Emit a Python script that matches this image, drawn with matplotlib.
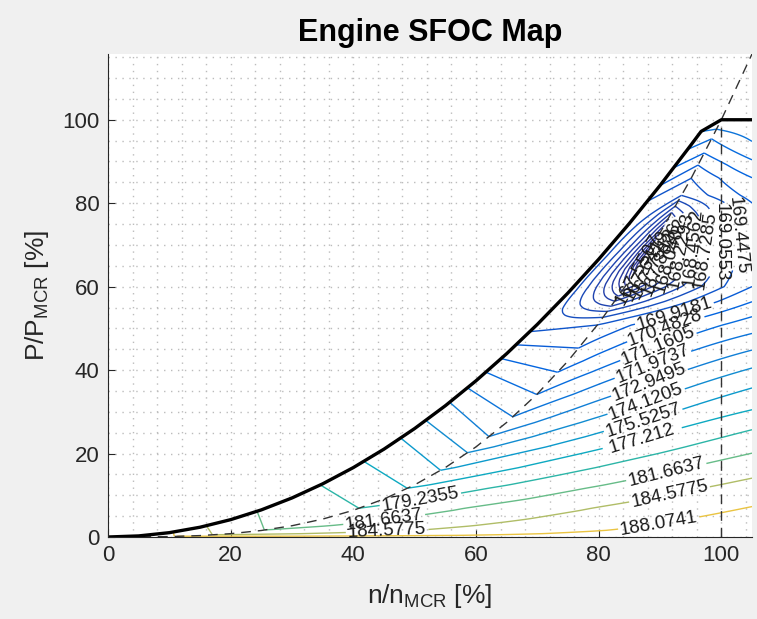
import numpy as np
import matplotlib.pyplot as plt
from matplotlib.colors import LinearSegmentedColormap

plt.rcParams['font.family'] = ['Liberation Sans', 'DejaVu Sans']
plt.rcParams['mathtext.fontset'] = 'custom'
plt.rcParams['mathtext.rm'] = 'Liberation Sans'
plt.rcParams['mathtext.it'] = 'Liberation Sans:italic'

# propeller curve (n/nMCR [%], P/PMCR [%])
prop_n = [0, 5, 10, 15, 20, 25, 30, 35, 40, 45, 50, 55, 60, 65, 70, 75, 80, 85, 90, 95, 100, 105]
prop_p = [0, 0.01, 0.1, 0.34, 0.8, 1.56, 2.7, 4.29, 6.4, 9.11, 12.5, 16.64, 21.6, 27.46,
          34.3, 42.19, 51.2, 61.41, 72.9, 85.74, 100, 115.76]

# engine load limit
lim_n = [0, 5, 10, 15, 20, 25, 30, 35, 40, 45, 50, 55, 60, 65, 70, 75, 80, 85, 90, 95, 96.7, 100, 105]
lim_p = [0, 0.26, 1.04, 2.34, 4.16, 6.5, 9.36, 12.74, 16.64, 21.06, 26.0, 31.46, 37.44, 43.94,
         50.96, 58.5, 66.56, 75.14, 84.24, 93.86, 97.2, 100, 100]

mcr_n = 100
mcr_p = 100

# SFOC [g/kWh]
sfoc_prop_n = [0, 5, 10, 14, 17, 25.5, 33, 40.9, 48.8, 54.2, 58.6, 62.1, 66, 69.9, 73.3, 76.7,
               79.8, 80.7, 81.4, 82.0, 82.6, 83.2, 83.8, 84.4, 85.0, 85.6, 86.8, 88.4, 89.3,
               90.0, 90.7, 91.3, 91.9, 92.5, 93.0, 93.5, 95.1, 96.2, 97.2, 98.4, 99.2, 100, 105]
sfoc_prop = [200, 193, 188.6, 186.0, 184.58, 181.66, 180.4, 179.24, 177.21, 175.53, 174.12,
             172.95, 171.97, 171.16, 170.48, 169.92, 169.45, 169.06, 168.73, 168.46, 168.23,
             168.04, 167.88, 167.75, 167.64, 167.55, 167.47, 167.55, 167.64, 167.75, 167.88,
             168.04, 168.23, 168.46, 168.73, 169.06, 169.45, 169.92, 170.48, 171.16, 171.97,
             172.6, 174]

# SFOC read along the load limit
sfoc_lim_n = [0, 10, 16, 24.3, 34.6, 41.7, 47.7, 51.8, 55.7, 58.6, 61.6, 64.1, 66.5, 68.7, 72,
              77, 82, 86, 88, 90, 92.2, 94.5, 96.7, 100]
sfoc_lim = [200, 188.5, 184.58, 181.66, 179.24, 177.21, 175.53, 174.12, 172.95, 171.97, 171.16,
            170.48, 169.92, 169.45, 169.3, 169.25, 169.28, 169.35, 169.45, 169.92, 170.48,
            171.16, 171.97, 172.6]

# speed offset between a propeller point and the limit point of equal SFOC
shift_n = [0, 25.3, 33, 40.9, 48.8, 54.2, 58.6, 62.1, 66, 69.9, 73.3, 76.7, 79.8, 85, 90,
           93.5, 95.1, 96.2, 97.2, 98.4, 99.2, 100]
shift = [0, 1.0, 4.0, 6.3, 7.1, 6.5, 6.8, 6.4, 7.4, 8.3, 9.2, 10.2, 11.1, 11.5, 10.0,
         8.0, 7.1, 6.2, 5.0, 3.9, 2.5, 0]

# SFOC read along the right edge (n = 105 %)
edge_n = 105
sfoc_edge_p = [0, 7.3, 14.1, 20.1, 25.7, 30.5, 35.7, 40.5, 44.8, 48.8, 52.8, 56.4, 60, 70, 80.1,
               86.1, 90.4, 94.8, 100]
sfoc_edge = [191.5, 188.07, 184.58, 181.66, 179.24, 177.21, 175.53, 174.12, 172.95, 171.97,
             171.16, 170.48, 169.92, 169.7, 169.92, 170.48, 171.16, 171.97, 172.8]

levels = [167.5507, 167.6419, 167.7513, 167.8826, 168.0402, 168.2293, 168.4562, 168.7285,
          169.0553, 169.4475, 169.9181, 170.4828, 171.1605, 171.9737, 172.9495, 174.1205,
          175.5257, 177.212, 179.2355, 181.6637, 184.5775, 188.0741]

# colour limits of the map
clim = (167.0, 193.0)

# where the labels sit
label_pos = [[(88.5, 62)], [(89.6, 63.2)], [(90.7, 64.8)], [(91.8, 66)], [(92.9, 67.2)],
             [(93.8, 68.4)], [(94.8, 69.6)], [(96.7, 68.8)], [(98.9, 70.4)], [(101.9, 72)],
             [(93.1, 50.4)], [(91.8, 47.2)], [(90.4, 43.6)], [(89.1, 40.5)], [(88.2, 37.2)],
             [(87.4, 33.6)], [(86.9, 29.3)], [(87.2, 23.3)], [(51, 8.5)],
             [(91, 15.7), (45, 4.5)], [(91.5, 10.5), (45.5, 1.7)], [(89.7, 4.1)]]

parula = LinearSegmentedColormap.from_list(
    'parula', ['#352a87', '#0363e1', '#1485d4', '#06a7c6', '#38b99e',
               '#92bf73', '#d9ba56', '#fcce2e', '#f9fb0e'])

# band between propeller curve and load limit: straight lines joining
# a propeller point to the limit point of equal SFOC
na, t = np.meshgrid(np.linspace(0, mcr_n, 801), np.linspace(0, 1, 80))
nb = na - np.interp(na, shift_n, shift)
Xu = na + t * (nb - na)
Yu = (1 - t) * np.interp(na, prop_n, prop_p) + t * np.interp(nb, lim_n, lim_p)
Zu = (1 - t) * np.interp(na, sfoc_prop_n, sfoc_prop) + t * np.interp(nb, sfoc_lim_n, sfoc_lim)

# region below the propeller curve: horizontal lines out to the right edge
pp, s = np.meshgrid(np.linspace(0, mcr_p, 501), np.linspace(0, 1, 240), indexing='ij')
npp = np.interp(pp, prop_p, prop_n)
Xd = npp + s * (edge_n - npp)
Yd = pp
Zd = (1 - s) * np.interp(npp, sfoc_prop_n, sfoc_prop) + s * np.interp(pp, sfoc_edge_p, sfoc_edge)

fig = plt.figure(figsize=(7.57, 6.19), dpi=100, facecolor='#f0f0f0')
ax = fig.add_axes([108/757, 82/619, 644/757, 483/619])

ax.contour(Xu, Yu, Zu, levels=levels, cmap=parula,
           vmin=clim[0], vmax=clim[1], linewidths=1.0)
cs = ax.contour(Xd, Yd, Zd, levels=levels, cmap=parula,
                vmin=clim[0], vmax=clim[1], linewidths=1.0)
# set up label formatting, then place each level's labels by hand
cs.clabel(levels, manual=[], inline=True, inline_spacing=2, fontsize=13.5,
          fmt=lambda v: f'{v:.7g}', colors='#1a1a1a')
for i, pos in enumerate(label_pos):
    cs.labelIndiceList = [i]
    for x, y in pos:
        cs.add_label_near(x, y, inline=True, inline_spacing=2)

ax.plot(prop_n, prop_p, color='#333333', lw=1.0, dashes=(7, 5))
ax.plot([mcr_n, mcr_n], [0, mcr_p], color='#333333', lw=1.0, dashes=(7, 5))
ax.plot(lim_n, lim_p, color='k', lw=2.4, solid_capstyle='butt')

ax.set_xlim(0, 105)
ax.set_ylim(0, prop_p[-1])
ax.set_xticks(range(0, 101, 20))
ax.set_xticks(np.arange(0, 106, 4), minor=True)
ax.set_yticks(range(0, 101, 20))
ax.set_yticks(np.arange(0, 116, 5), minor=True)
ax.grid(which='both', ls=(0, (1, 4)), color='#bcbcbc', lw=1.0)
ax.set_axisbelow(True)
ax.tick_params(which='major', direction='in', length=5, labelsize=16,
               colors='#262626', pad=6)
ax.tick_params(which='minor', length=0)
for side in ['top', 'right']:
    ax.spines[side].set_visible(False)
for side in ['left', 'bottom']:
    ax.spines[side].set_color('#262626')

ax.set_title('Engine SFOC Map', fontsize=22, fontweight='bold', pad=9)
ax.set_xlabel(r'n/n$_{\mathrm{MCR}}$ [%]', fontsize=19, color='#262626', labelpad=11)
ax.set_ylabel(r'P/P$_{\mathrm{MCR}}$ [%]', fontsize=19, color='#262626', labelpad=8)

fig.savefig('out.png', dpi=100, facecolor=fig.get_facecolor())
